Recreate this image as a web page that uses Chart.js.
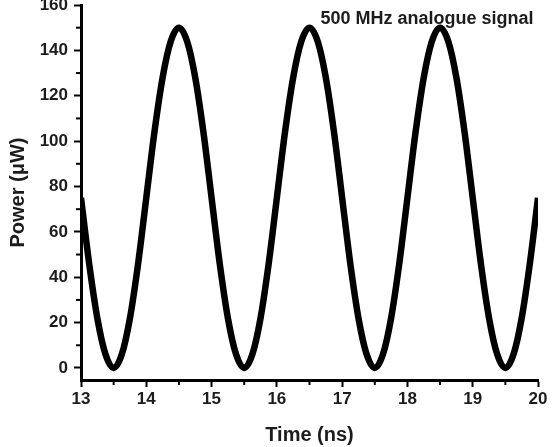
<!DOCTYPE html>
<html>
<head>
<meta charset="utf-8">
<script src="https://cdn.jsdelivr.net/npm/chart.js@4"></script>
<style>
    html, body { margin: 0; padding: 0; background: #fff; }
    #wrap { width: 557px; height: 447px; }
</style>
</head>
<body>
<div id="wrap"><canvas id="chartSinal"></canvas></div>
<script>
// tempo (ns) e potencia (uW)
var tempos = [
    13, 13.125, 13.25, 13.375, 13.5, 13.625, 13.75, 13.875,
    14, 14.125, 14.25, 14.375, 14.5, 14.625, 14.75, 14.875,
    15, 15.125, 15.25, 15.375, 15.5, 15.625, 15.75, 15.875,
    16, 16.125, 16.25, 16.375, 16.5, 16.625, 16.75, 16.875,
    17, 17.125, 17.25, 17.375, 17.5, 17.625, 17.75, 17.875,
    18, 18.125, 18.25, 18.375, 18.5, 18.625, 18.75, 18.875,
    19, 19.125, 19.25, 19.375, 19.5, 19.625, 19.75, 19.875,
    20
];
var potencias = [
    75, 46, 22, 6, 0, 6, 22, 46,
    75, 104, 128, 144, 150, 144, 128, 104,
    75, 46, 22, 6, 0, 6, 22, 46,
    75, 104, 128, 144, 150, 144, 128, 104,
    75, 46, 22, 6, 0, 6, 22, 46,
    75, 104, 128, 144, 150, 144, 128, 104,
    75, 46, 22, 6, 0, 6, 22, 46,
    75
];
var ticksX = [13, 14, 15, 16, 17, 18, 19, 20];
var ticksY = [0, 20, 40, 60, 80, 100, 120, 140, 160];
var minorX = [13.5, 14.5, 15.5, 16.5, 17.5, 18.5, 19.5];
var minorY = [10, 30, 50, 70, 90, 110, 130, 150];
var legenda = "500 MHz analogue signal";

var fonte = "'Liberation Sans', Arial, sans-serif";
var corTexto = "#1c1c1c";

// ticks menores + texto da legenda
var extras = {
    id: "extras",
    afterDraw: function (chart) {
        const ctx = chart.ctx;
        const sx = chart.scales.x;
        const sy = chart.scales.y;
        const area = chart.chartArea;

        ctx.save();
        ctx.strokeStyle = "#000";
        ctx.lineWidth = 2;
        minorX.forEach(function (v) {
            const px = sx.getPixelForValue(v);
            ctx.beginPath();
            ctx.moveTo(px, area.bottom);
            ctx.lineTo(px, area.bottom + 5);
            ctx.stroke();
        });
        minorY.forEach(function (v) {
            const py = sy.getPixelForValue(v);
            ctx.beginPath();
            ctx.moveTo(area.left, py);
            ctx.lineTo(area.left - 5, py);
            ctx.stroke();
        });

        ctx.fillStyle = corTexto;
        ctx.font = "bold 18px " + fonte;
        ctx.textAlign = "center";
        ctx.textBaseline = "middle";
        ctx.fillText(legenda, sx.getPixelForValue(18.3), sy.getPixelForValue(154));
        ctx.restore();
    }
};

new Chart(document.getElementById("chartSinal").getContext("2d"), {
    type: "line",
    data: {
        datasets: [{
            data: tempos.map(function (t, i) { return { x: t, y: potencias[i] }; }),
            borderColor: "#000",
            borderWidth: 6.5,
            pointRadius: 0,
            cubicInterpolationMode: "monotone",
            fill: false
        }]
    },
    options: {
        responsive: true,
        maintainAspectRatio: false,
        animation: false,
        layout: { padding: 0 },
        plugins: {
            legend: { display: false },
            tooltip: { enabled: false }
        },
        scales: {
            x: {
                type: "linear",
                min: 13,
                max: 20,
                afterBuildTicks: function (scale) {
                    scale.ticks = ticksX.map(function (v) { return { value: v }; });
                },
                afterFit: function (scale) {
                    scale.height = 67;
                    scale.paddingLeft = 0;
                    scale.paddingRight = 19;
                },
                ticks: {
                    color: corTexto,
                    font: { family: fonte, size: 17, weight: "bold" },
                    padding: 2,
                    maxRotation: 0
                },
                grid: {
                    drawOnChartArea: false,
                    drawTicks: true,
                    tickLength: 7,
                    tickWidth: 2,
                    tickColor: "#000"
                },
                border: { color: "#000", width: 3 },
                title: {
                    display: true,
                    text: "Time (ns)",
                    color: corTexto,
                    font: { family: fonte, size: 20, weight: "bold" },
                    padding: { top: 0, bottom: 0 }
                }
            },
            y: {
                min: -5.3,
                max: 160,
                afterBuildTicks: function (scale) {
                    scale.ticks = ticksY.map(function (v) { return { value: v }; });
                },
                afterFit: function (scale) {
                    scale.width = 81;
                    scale.paddingTop = 5;
                    scale.paddingBottom = 0;
                },
                ticks: {
                    color: corTexto,
                    font: { family: fonte, size: 17, weight: "bold" },
                    padding: 6
                },
                grid: {
                    drawOnChartArea: false,
                    drawTicks: true,
                    tickLength: 7,
                    tickWidth: 2,
                    tickColor: "#000"
                },
                border: { color: "#000", width: 3 },
                title: {
                    display: true,
                    text: "Power (\u03bcW)",
                    color: corTexto,
                    font: { family: fonte, size: 20, weight: "bold" },
                    padding: { top: 6, bottom: 0 }
                }
            }
        }
    },
    plugins: [extras]
});
</script>
</body>
</html>
